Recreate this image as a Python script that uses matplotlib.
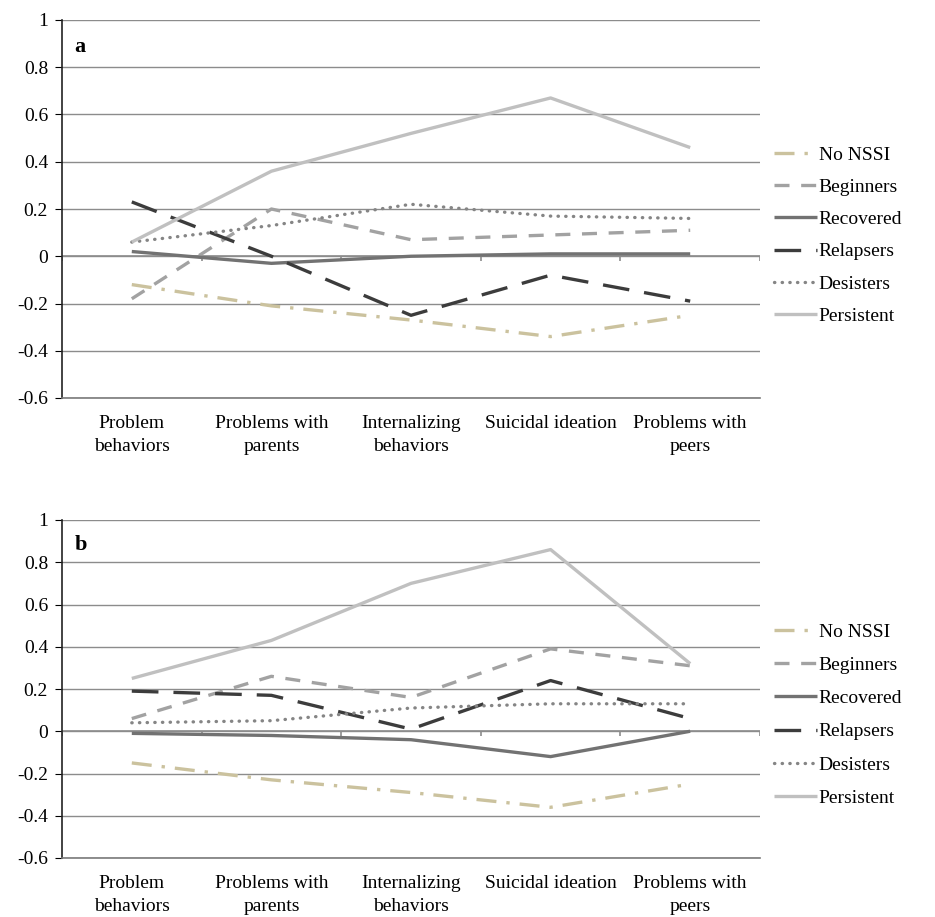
import numpy as np
import matplotlib.pyplot as plt

plt.rcParams['font.family'] = ['Liberation Serif', 'DejaVu Serif']

categories = ['Problem\nbehaviors', 'Problems with\nparents', 'Internalizing\nbehaviors',
              'Suicidal ideation', 'Problems with\npeers']
groups = ['No NSSI', 'Beginners', 'Recovered', 'Relapsers', 'Desisters', 'Persistent']

# panel a
a_no_nssi = [-0.12, -0.21, -0.27, -0.34, -0.25]
a_beginners = [-0.18, 0.20, 0.07, 0.09, 0.11]
a_recovered = [0.02, -0.03, 0.00, 0.01, 0.01]
a_relapsers = [0.23, 0.00, -0.25, -0.08, -0.19]
a_desisters = [0.06, 0.13, 0.22, 0.17, 0.16]
a_persistent = [0.06, 0.36, 0.52, 0.67, 0.46]

# panel b
b_no_nssi = [-0.15, -0.23, -0.29, -0.36, -0.25]
b_beginners = [0.06, 0.26, 0.16, 0.39, 0.31]
b_recovered = [-0.01, -0.02, -0.04, -0.12, 0.00]
b_relapsers = [0.19, 0.17, 0.01, 0.24, 0.06]
b_desisters = [0.04, 0.05, 0.11, 0.13, 0.13]
b_persistent = [0.25, 0.43, 0.70, 0.86, 0.32]

styles = {
    'No NSSI': dict(color='#cbc29e', dashes=(6, 3, 1, 3)),
    'Beginners': dict(color='#a2a2a2', dashes=(4.5, 3.5)),
    'Recovered': dict(color='#727272', dashes=()),
    'Relapsers': dict(color='#3c3c3c', dashes=(8, 4.5)),
    'Desisters': dict(color='#858585', dashes=(0.1, 2.2), dash_capstyle='round'),
    'Persistent': dict(color='#c0c0c0', dashes=()),
}

fs = 14

fig = plt.figure(figsize=(9.35, 9.17), dpi=100)
ax_a = fig.add_axes([62 / 935, 1 - 398 / 917, 698 / 935, 378 / 917])
ax_b = fig.add_axes([62 / 935, 1 - 858 / 917, 698 / 935, 338 / 917])

panels = [
    (ax_a, 'a', [a_no_nssi, a_beginners, a_recovered, a_relapsers, a_desisters, a_persistent]),
    (ax_b, 'b', [b_no_nssi, b_beginners, b_recovered, b_relapsers, b_desisters, b_persistent]),
]

x = np.arange(len(categories))
for ax, letter, series in panels:
    for name, vals in zip(groups, series):
        st = styles[name]
        line, = ax.plot(x, vals, color=st['color'], lw=2.4, label=name,
                        solid_capstyle='butt', zorder=3)
        if st['dashes']:
            line.set_dashes(st['dashes'])
            line.set_dash_capstyle(st.get('dash_capstyle', 'butt'))
    ax.set_xlim(-0.5, len(categories) - 0.5)
    ax.set_ylim(-0.6, 1.0)
    ax.set_yticks(np.arange(-0.6, 1.01, 0.2))
    ax.set_yticklabels(['-0.6', '-0.4', '-0.2', '0', '0.2', '0.4', '0.6', '0.8', '1'])
    ax.set_xticks(x)
    ax.set_xticklabels(categories, linespacing=1.45)
    ax.tick_params(axis='x', length=0, pad=12, labelsize=fs)
    ax.tick_params(axis='y', length=5, direction='out', labelsize=fs, pad=5)
    ax.grid(axis='y', color='#8c8c8c', lw=1.0, zorder=0)
    ax.set_axisbelow(True)
    for s in ['top', 'right']:
        ax.spines[s].set_visible(False)
    ax.spines['bottom'].set_color('#7a7a7a')
    ax.spines['bottom'].set_linewidth(1.2)
    ax.spines['left'].set_color('#222222')
    ax.spines['left'].set_linewidth(1.2)
    # zero axis with category boundary ticks
    ax.axhline(0, color='#8c8c8c', lw=1.2, zorder=1)
    ax.vlines(np.arange(-0.5, len(categories), 1.0), -0.022, 0, color='#8c8c8c', lw=1.2, zorder=1)
    ax.text(0.018, 0.955, letter, transform=ax.transAxes, fontsize=16, fontweight='bold',
            va='top', ha='left')

leg_a = ax_a.legend(loc='center left', bbox_to_anchor=(0.995, 0.43), frameon=False,
                    fontsize=fs, handlelength=2.2, handletextpad=0.1, labelspacing=0.75)
leg_b = ax_b.legend(loc='center left', bbox_to_anchor=(0.995, 0.423), frameon=False,
                    fontsize=fs, handlelength=2.2, handletextpad=0.1, labelspacing=0.8)

fig.savefig('out.png', dpi=100)
